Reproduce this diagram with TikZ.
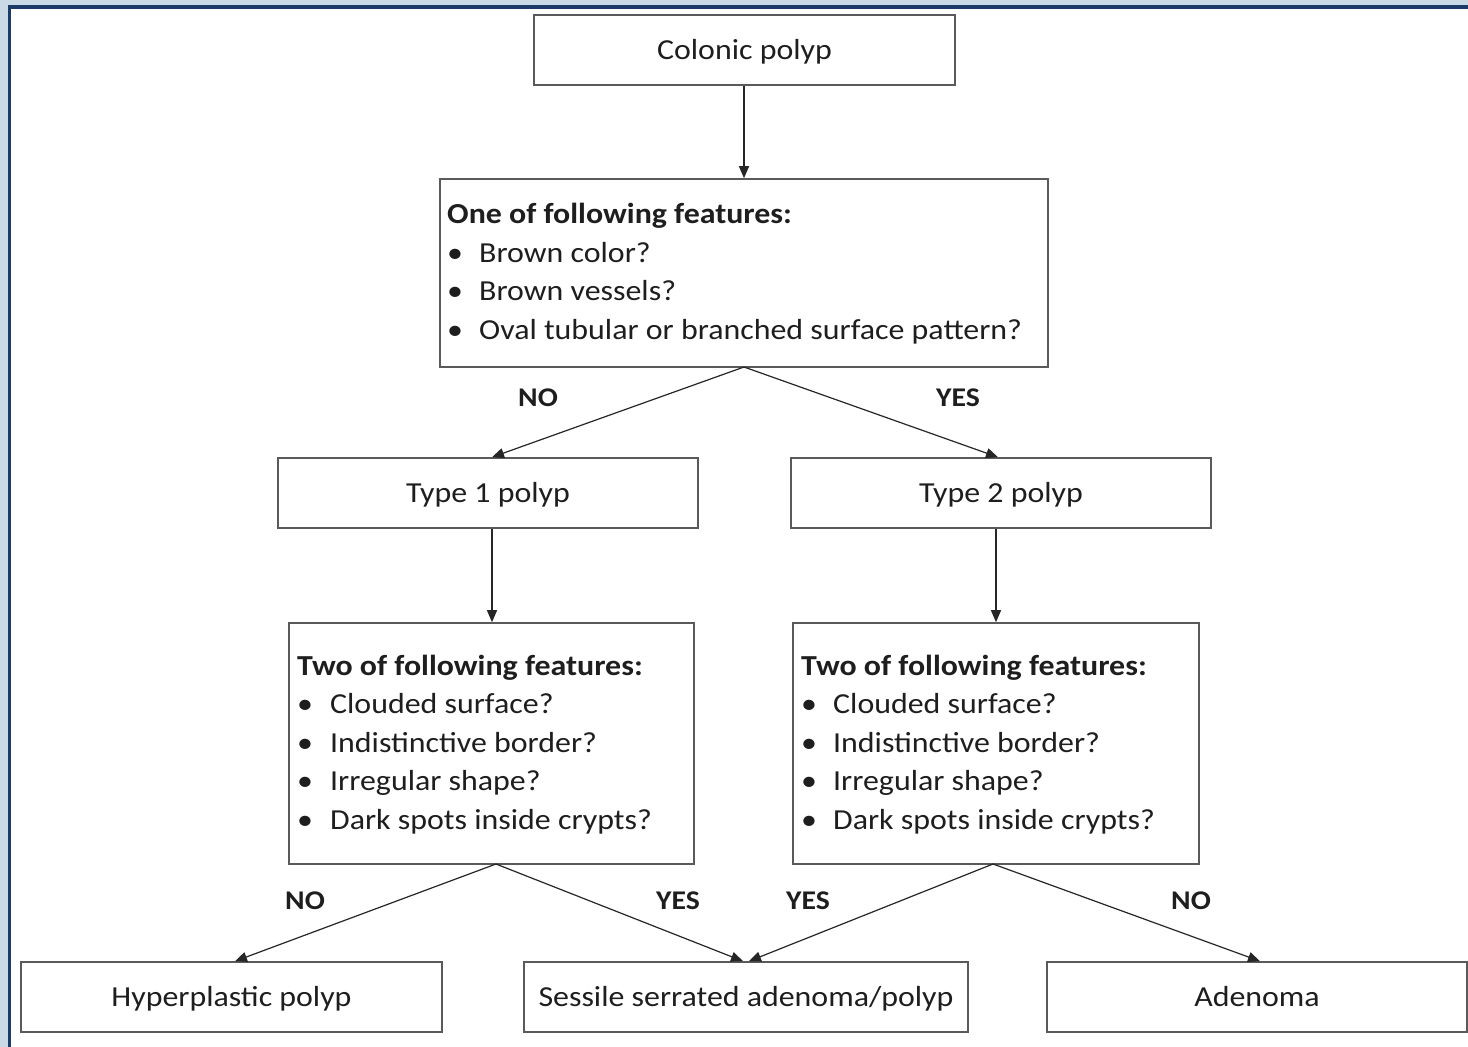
\documentclass[tikz,border=0pt]{standalone}
\usepackage{fontspec}
\setmainfont{Carlito}[FakeStretch=1.1]
\usetikzlibrary{arrows.meta}
\definecolor{bgblue}{HTML}{C9D9E6}
\definecolor{frameblue}{HTML}{1C3A66}
\definecolor{boxgray}{HTML}{5A5A5A}
\definecolor{txt}{HTML}{1E1E1E}
\tikzset{
  box/.style={draw=boxgray, line width=1.6pt, fill=white, inner sep=0pt},
  boxtxt/.style={font=\fontsize{29}{35}\selectfont, text=txt, anchor=base, inner sep=0pt},
  line/.style={anchor=base west, inner sep=0pt, font=\fontsize{29}{35}\selectfont, text=txt},
  lab/.style={font=\fontsize{27}{32}\selectfont\bfseries, text=txt, inner sep=0pt},
  conn/.style={draw=black!85, line width=1.2pt, -{Triangle[length=12pt,width=10pt]}}
}
\begin{document}
\begin{tikzpicture}[x=1pt,y=-1pt]
\useasboundingbox (0,0) rectangle (1468,1047);
\fill[bgblue] (0,0) rectangle (1468,1047);
\fill[white] (9.5,7) rectangle (1470,1050);
\draw[frameblue, line width=3.8pt] (9.5,1050) -- (9.5,7) -- (1470,7);

% boxes
\node[box, minimum width=421pt, minimum height=70pt] (cp) at (744.5,50) {};
\node[boxtxt] at (744.5,59) {Colonic polyp};
\node[box, minimum width=608pt, minimum height=188pt] (f1) at (744,273) {};
\node[box, minimum width=420pt, minimum height=70pt] (t1) at (488,493) {};
\node[boxtxt] at (488,502) {Type 1 polyp};
\node[box, minimum width=420pt, minimum height=70pt] (t2) at (1001,493) {};
\node[boxtxt] at (1001,502) {Type 2 polyp};
\node[box, minimum width=405pt, minimum height=241pt] (f2) at (491.5,743.5) {};
\node[box, minimum width=406pt, minimum height=241pt] (f3) at (996,743.5) {};
\node[box, minimum width=421pt, minimum height=70pt] (hp) at (231.5,997) {};
\node[boxtxt] at (231.5,1006) {Hyperplastic polyp};
\node[box, minimum width=444pt, minimum height=70pt] (ss) at (746,997) {};
\node[boxtxt] at (746,1006) {Sessile serrated adenoma/polyp};
\node[box, minimum width=420pt, minimum height=70pt] (ad) at (1257,997) {};
\node[boxtxt] at (1257,1006) {Adenoma};

% box texts
\node[line] (f1t) at (447,223) {\bfseries One of following features:};
\node[line] (f1a) at (447,262) {\makebox[32pt][l]{\textbullet}Brown color?};
\node[line] (f1b) at (447,300.5) {\makebox[32pt][l]{\textbullet}Brown vessels?};
\node[line] (f1c) at (447,339) {\makebox[32pt][l]{\textbullet}Oval tubular or branched surface pattern?};

\node[line] (f2t) at (297,675) {\bfseries Two of following features:};
\node[line] (f2a) at (297,713.5) {\makebox[33pt][l]{\textbullet}Clouded surface?};
\node[line] (f2b) at (297,752) {\makebox[33pt][l]{\textbullet}Indistinctive border?};
\node[line] (f2c) at (297,790.5) {\makebox[33pt][l]{\textbullet}Irregular shape?};
\node[line] (f2d) at (297,829) {\makebox[33pt][l]{\textbullet}Dark spots inside crypts?};

\node[line] (f3t) at (801,675) {\bfseries Two of following features:};
\node[line] (f3a) at (801,713.5) {\makebox[32pt][l]{\textbullet}Clouded surface?};
\node[line] (f3b) at (801,752) {\makebox[32pt][l]{\textbullet}Indistinctive border?};
\node[line] (f3c) at (801,790.5) {\makebox[32pt][l]{\textbullet}Irregular shape?};
\node[line] (f3d) at (801,829) {\makebox[32pt][l]{\textbullet}Dark spots inside crypts?};

% connectors
\coordinate (f1s) at (744,367);
\coordinate (f2s) at (496,864);
\coordinate (f3s) at (993,864);
\draw[conn] (cp.south -| 744,0) -- (f1.north -| 744,0);
\draw[conn] (f1s) -- (t1.north -| 492,0);
\draw[conn] (f1s) -- (t2.north -| 998,0);
\draw[conn] (t1.south -| 492,0) -- (f2.north -| 492,0);
\draw[conn] (t2.south -| 996,0) -- (f3.north -| 996,0);
\draw[conn] (f2s) -- (hp.north -| 235,0);
\draw[conn] (f2s) -- (ss.north -| 743,0);
\draw[conn] (f3s) -- (ss.north -| 749,0);
\draw[conn] (f3s) -- (ad.north -| 1260,0);

% labels
\node[lab] (l1) at (538,398) {NO};
\node[lab] (l2) at (958,398) {YES};
\node[lab] (l3) at (305,901) {NO};
\node[lab] (l4) at (678,901) {YES};
\node[lab] (l5) at (808,901) {YES};
\node[lab] (l6) at (1191,901) {NO};
\end{tikzpicture}
\end{document}
